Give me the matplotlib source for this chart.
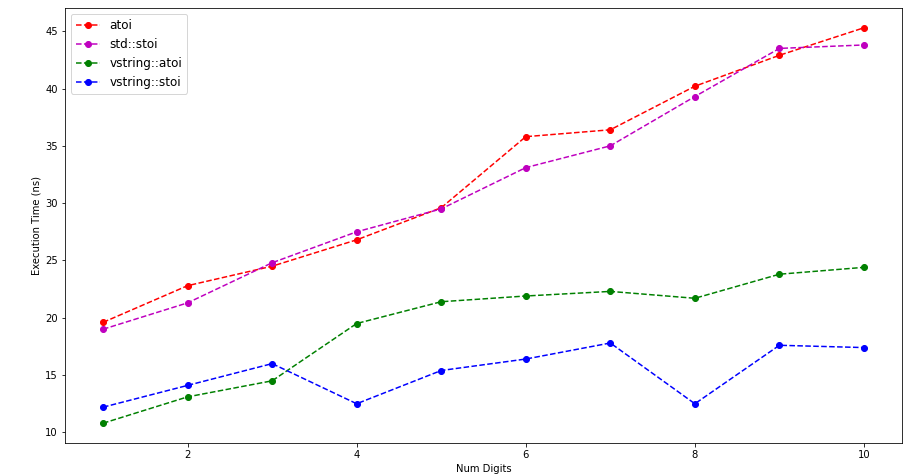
"""
Plot execution time of string to int conversion by number of digits.
"""

import matplotlib

matplotlib.use("Agg")
import matplotlib.pyplot as plt

num_digits = [1, 2, 3, 4, 5, 6, 7, 8, 9, 10]
atoi = [19.6, 22.8, 24.5, 26.8, 29.6, 35.8, 36.4, 40.2, 42.9, 45.3]
std_stoi = [19.0, 21.3, 24.8, 27.5, 29.5, 33.1, 35.0, 39.3, 43.5, 43.8]
vstring_atoi = [10.8, 13.1, 14.5, 19.5, 21.4, 21.9, 22.3, 21.7, 23.8, 24.4]
vstring_stoi = [12.2, 14.1, 16.0, 12.5, 15.4, 16.4, 17.8, 12.5, 17.6, 17.4]


def main():
    """Draw the chart."""
    fig = plt.figure(figsize=(912 / 72, 474 / 72), dpi=72)
    ax = fig.add_axes([65 / 912, 1 - 443 / 474, 837 / 912, 435 / 474])
    ax.plot(num_digits, atoi, "r--o", label="atoi")
    ax.plot(num_digits, std_stoi, "m--o", label="std::stoi")
    ax.plot(num_digits, vstring_atoi, "g--o", label="vstring::atoi")
    ax.plot(num_digits, vstring_stoi, "b--o", label="vstring::stoi")
    ax.set_xlabel("Num Digits")
    ax.set_ylabel("Execution Time (ns)")
    ax.legend(fontsize=12)
    fig.savefig("out.png", dpi=72)


if __name__ == "__main__":
    main()
